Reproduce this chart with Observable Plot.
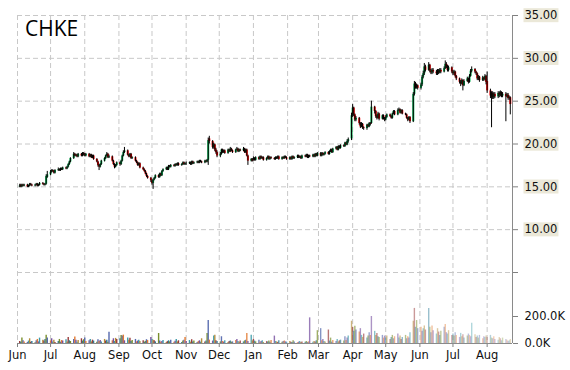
<!DOCTYPE html>
<html><head><meta charset="utf-8">
<script src="https://cdn.jsdelivr.net/npm/d3@7"></script>
<script src="https://cdn.jsdelivr.net/npm/@observablehq/plot@0.6"></script>
<style>
body{margin:0;background:#fff;}
#wrap{position:relative;width:570px;height:370px;overflow:hidden;background:#fff;}
#wrap svg{position:absolute;left:0;top:0;}
#title{position:absolute;left:25px;top:14px;font-family:"Open Sans";font-size:21px;color:#000;z-index:5;}
</style></head><body>
<div id="wrap"></div>
<script>
const title = "CHKE";
const monthTicks = ["2013-06-01","2013-07-01","2013-08-01","2013-09-01","2013-10-01","2013-11-01","2013-12-01",
  "2014-01-01","2014-02-01","2014-03-01","2014-04-01","2014-05-01","2014-06-01","2014-07-01","2014-08-01"];
const priceTicks = [5,10,15,20,25,30,35];
const volumeTicks = [0,200000];

const open = [
15.0,15.2,15.0,15.2,15.1,15.2,15.0,15.1,15.3,15.2,15.1,15.2,15.3,15.1,15.2,15.4,15.3,15.2,15.3,16.1,
16.4,16.7,16.9,16.8,16.6,16.9,17.0,16.9,17.1,17.0,17.2,17.1,17.3,17.6,17.9,18.3,18.8,18.6,18.7,18.5,18.8,18.6,18.9,
18.7,18.6,18.8,18.5,18.7,18.4,18.6,18.2,17.9,17.5,17.3,17.6,18.0,18.3,18.6,18.8,18.4,18.5,18.0,17.6,17.3,17.5,
17.8,17.6,18.0,18.6,19.0,19.2,18.7,18.5,18.8,18.3,18.4,18.0,17.8,17.5,17.7,17.2,17.0,16.8,16.5,16.2,16.0,
15.7,15.4,15.8,16.0,16.3,16.1,16.5,16.3,16.8,17.0,17.2,17.0,17.4,17.3,17.5,17.4,17.6,17.5,17.7,17.5,17.6,17.8,17.6,
17.7,17.7,17.8,17.6,17.9,17.7,17.8,17.9,17.8,18.0,17.9,17.8,18.0,17.9,18.1,20.6,20.3,19.6,19.9,19.3,19.0,
18.6,18.8,19.3,19.0,19.2,18.9,19.3,19.1,19.4,19.2,19.0,19.3,19.4,19.1,19.3,19.2,19.4,19.0,19.3,18.6,18.0,18.2,
18.2,18.3,18.1,18.4,18.2,18.5,18.3,18.4,18.1,18.3,18.5,18.2,18.4,18.3,18.2,18.4,18.3,18.5,18.2,18.4,18.3,18.5,18.4,
18.2,18.4,18.2,18.5,18.3,18.4,18.6,18.4,18.5,18.3,18.6,18.5,18.7,18.4,18.6,18.5,18.7,18.5,18.8,18.6,
18.9,18.6,18.9,18.7,18.8,19.0,18.8,19.1,19.3,19.0,19.4,19.6,19.3,19.7,19.5,19.8,19.7,20.1,19.9,20.3,20.6,
23.3,24.2,23.4,22.8,23.0,22.4,22.0,22.3,21.9,21.8,22.2,22.0,22.4,22.4,24.3,23.8,23.2,23.0,23.5,22.9,23.3,23.0,
22.8,23.1,23.4,23.2,23.0,23.5,23.8,23.4,23.9,24.0,23.6,23.9,23.5,23.4,23.0,22.8,23.1,22.6,25.8,27.0,26.6,26.8,
26.5,26.9,27.8,28.2,29.0,28.6,29.2,28.5,28.3,28.6,28.4,28.2,28.5,28.3,28.6,28.4,28.8,29.3,29.0,28.6,28.9,
28.4,28.2,28.4,27.9,27.6,27.2,27.0,27.4,26.8,27.3,27.6,27.2,27.9,28.5,28.7,28.4,28.2,27.6,27.8,27.4,27.7,27.5,27.9,
27.3,26.2,25.6,25.9,25.4,25.8,25.5,25.9,25.7,26.0,25.6,25.8,25.5,25.7,25.3,25.4];

const high = [
15.3,15.3,15.3,15.3,15.3,15.3,15.2,15.4,15.4,15.3,15.3,15.4,15.4,15.3,15.5,15.5,15.4,15.4,16.4,16.8,
16.9,17.0,17.0,16.9,17.0,17.2,17.1,17.2,17.2,17.3,17.3,17.4,17.7,18.0,18.4,19.0,18.9,18.8,18.8,18.9,18.9,19.0,19.0,
18.9,18.9,18.9,18.8,18.8,18.7,18.7,18.3,18.0,17.6,17.7,18.1,18.4,18.7,19.0,18.9,18.7,18.6,18.1,17.7,17.6,17.9,
17.9,18.1,18.7,19.2,19.6,19.3,18.8,18.9,18.9,18.5,18.5,18.1,17.9,17.8,17.8,17.3,17.1,16.9,16.6,16.3,16.1,
15.8,15.9,16.1,16.4,16.4,16.6,16.6,16.9,17.1,17.3,17.3,17.5,17.5,17.6,17.6,17.7,17.7,17.8,17.8,17.7,17.9,17.9,17.8,
17.9,17.9,17.9,18.0,18.0,17.9,18.0,18.0,18.1,18.1,18.0,18.1,18.1,18.2,20.7,20.9,20.4,20.1,20.0,19.5,19.2,
19.0,19.4,19.4,19.3,19.3,19.4,19.4,19.6,19.5,19.3,19.4,19.6,19.5,19.4,19.4,19.6,19.5,19.4,19.4,18.7,18.3,18.3,
18.5,18.4,18.5,18.5,18.6,18.6,18.5,18.5,18.4,18.6,18.6,18.5,18.5,18.4,18.5,18.5,18.6,18.6,18.5,18.5,18.6,18.6,18.5,
18.5,18.5,18.6,18.6,18.5,18.7,18.7,18.6,18.6,18.7,18.7,18.8,18.8,18.7,18.7,18.8,18.8,18.9,18.9,19.0,
19.0,19.0,19.0,18.9,19.1,19.1,19.2,19.4,19.4,19.5,19.7,19.7,19.8,19.8,19.9,19.9,20.2,20.2,20.5,20.7,23.6,
24.6,24.3,23.5,23.2,23.1,22.5,22.5,22.4,22.0,22.3,22.3,22.5,22.5,25.0,24.4,23.9,23.4,23.7,23.6,23.4,23.4,23.1,
23.3,23.5,23.5,23.3,23.6,23.9,23.9,24.1,24.2,24.1,24.0,24.0,23.6,23.5,23.1,23.2,23.2,26.0,27.3,27.2,27.0,26.9,
27.1,28.0,28.5,29.4,29.2,29.5,29.3,28.7,28.8,28.8,28.6,28.7,28.7,28.8,28.8,29.0,29.7,29.5,29.2,29.1,29.0,
28.6,28.6,28.5,28.0,27.7,27.4,27.6,27.5,27.5,27.8,27.7,28.1,28.7,29.0,28.8,28.5,28.3,28.0,27.9,27.9,27.8,28.1,28.0,
28.4,26.4,26.1,26.1,26.0,26.0,26.1,26.1,26.2,26.1,26.0,26.0,25.9,25.9,25.6,25.5];

const low = [
14.9,14.9,14.9,15.0,15.0,14.9,14.9,15.0,15.1,15.0,15.0,15.1,15.0,15.0,15.1,15.2,15.1,15.1,15.2,16.0,
16.3,16.6,16.7,16.5,16.5,16.8,16.8,16.8,16.9,16.9,17.0,17.0,17.2,17.5,17.8,18.2,18.5,18.5,18.4,18.4,18.5,18.5,18.6,
18.5,18.5,18.4,18.4,18.3,18.3,18.1,17.8,17.3,16.9,17.2,17.5,17.9,18.2,18.5,18.3,18.3,17.9,17.5,17.1,17.2,17.4,
17.4,17.5,17.9,18.5,18.9,18.6,18.4,18.4,18.2,18.2,17.9,17.7,17.4,17.4,17.1,16.9,16.7,16.4,16.1,15.9,15.5,
15.2,14.7,15.7,15.9,16.0,16.0,16.2,16.2,16.7,16.9,16.9,16.9,17.2,17.2,17.3,17.3,17.4,17.4,17.4,17.4,17.5,17.5,17.5,
17.5,17.6,17.5,17.5,17.6,17.6,17.7,17.7,17.7,17.8,17.7,17.7,17.8,17.8,17.5,20.0,19.4,19.4,19.1,18.8,18.4,
18.4,18.7,18.9,18.9,18.8,18.8,19.0,19.0,19.1,18.9,18.9,19.2,19.0,19.0,19.1,19.1,18.9,18.9,18.5,17.5,17.9,17.9,
18.0,18.0,18.0,18.1,18.1,18.2,18.2,18.0,18.0,18.2,18.1,18.1,18.2,18.1,18.1,18.2,18.2,18.1,18.1,18.2,18.2,18.3,18.1,
18.1,18.1,18.1,18.2,18.2,18.3,18.3,18.3,18.2,18.2,18.4,18.4,18.3,18.3,18.4,18.4,18.4,18.4,18.5,18.5,
18.5,18.5,18.6,18.6,18.7,18.7,18.7,19.0,18.9,18.9,19.3,19.2,19.2,19.4,19.4,19.6,19.6,19.8,19.8,20.1,20.4,
23.1,23.2,22.6,22.6,22.2,21.8,21.9,21.7,21.6,21.6,21.9,21.9,22.1,22.3,23.5,23.0,22.8,22.9,22.7,22.8,22.8,22.6,
22.7,23.0,23.1,22.9,22.9,23.4,23.3,23.3,23.8,23.5,23.5,23.4,23.3,22.9,22.6,22.7,22.4,22.5,25.6,26.4,26.4,26.3,
26.3,26.7,27.6,28.0,28.4,28.5,28.3,28.1,28.1,28.2,28.0,28.0,28.1,28.2,28.2,28.3,28.7,28.8,28.4,28.4,28.2,
28.0,28.0,27.7,27.4,27.0,26.7,26.9,26.2,26.7,27.2,27.0,27.1,27.8,28.3,28.2,28.0,27.4,27.4,27.2,27.3,27.3,27.4,26.9,
25.9,25.3,21.9,25.2,25.2,25.3,25.3,25.4,25.5,25.4,25.4,22.6,25.4,25.1,25.1,23.4];

const close = [
15.1,15.0,15.2,15.1,15.2,15.0,15.1,15.3,15.2,15.1,15.2,15.3,15.1,15.2,15.4,15.3,15.2,15.3,16.2,16.4,
16.7,16.9,16.8,16.6,16.9,17.0,16.9,17.1,17.0,17.2,17.1,17.3,17.6,17.9,18.3,18.8,18.6,18.7,18.5,18.8,18.6,18.9,18.7,
18.6,18.8,18.5,18.7,18.4,18.6,18.2,17.9,17.5,17.3,17.6,18.0,18.3,18.6,18.8,18.4,18.5,18.0,17.6,17.3,17.5,17.8,
17.6,18.0,18.6,19.0,19.2,18.7,18.5,18.8,18.3,18.4,18.0,17.8,17.5,17.7,17.2,17.0,16.8,16.5,16.2,16.0,15.7,
15.4,15.8,16.0,16.3,16.1,16.5,16.3,16.8,17.0,17.2,17.0,17.4,17.3,17.5,17.4,17.6,17.5,17.7,17.5,17.6,17.8,17.6,17.7,
17.7,17.8,17.6,17.9,17.7,17.8,17.9,17.8,18.0,17.9,17.8,18.0,17.9,18.1,20.4,20.3,19.6,19.9,19.3,19.0,18.6,
18.8,19.3,19.0,19.2,18.9,19.3,19.1,19.4,19.2,19.0,19.3,19.4,19.1,19.3,19.2,19.4,19.0,19.3,18.6,18.0,18.2,18.0,
18.3,18.1,18.4,18.2,18.5,18.3,18.4,18.1,18.3,18.5,18.2,18.4,18.3,18.2,18.4,18.3,18.5,18.2,18.4,18.3,18.5,18.4,18.2,
18.4,18.2,18.5,18.3,18.4,18.6,18.4,18.5,18.3,18.6,18.5,18.7,18.4,18.6,18.5,18.7,18.5,18.8,18.6,18.9,
18.6,18.9,18.7,18.8,19.0,18.8,19.1,19.3,19.0,19.4,19.6,19.3,19.7,19.5,19.8,19.7,20.1,19.9,20.3,20.5,23.3,
24.2,23.4,22.8,23.0,22.4,22.0,22.3,21.9,21.8,22.2,22.0,22.4,22.3,24.3,23.8,23.2,23.0,23.5,22.9,23.3,23.0,22.8,
23.1,23.4,23.2,23.0,23.5,23.8,23.4,23.9,24.0,23.6,23.9,23.5,23.4,23.0,22.8,23.1,22.6,25.8,27.0,26.6,26.8,26.5,
26.9,27.8,28.2,29.0,28.6,29.2,28.5,28.3,28.6,28.4,28.2,28.5,28.3,28.6,28.4,28.8,29.3,29.0,28.6,28.9,28.4,
28.2,28.4,27.9,27.6,27.2,27.0,27.4,26.8,27.3,27.6,27.2,27.9,28.5,28.7,28.4,28.2,27.6,27.8,27.4,27.7,27.5,27.9,27.2,
26.2,25.6,25.9,25.4,25.8,25.5,25.9,25.7,26.0,25.6,25.8,25.5,25.7,25.3,25.4,24.6];

const volumeK = [
15,10,40,20,12,8,18,35,10,14,6,20,30,12,40,25,18,30,62,40,
20,35,12,25,8,15,30,10,22,18,28,12,45,20,15,30,48,25,10,22,35,18,28,
40,15,20,30,12,25,18,10,28,15,22,12,30,18,25,10,84,20,35,15,38,30,
35,60,55,62,20,40,25,38,15,22,30,12,18,25,14,20,10,16,28,22,45,
30,25,20,12,74,18,10,15,22,8,14,20,12,25,10,16,30,12,20,8,18,24,45,
15,22,10,28,12,18,8,14,20,10,35,12,18,75,170,25,18,55,62,20,15,
12,50,15,10,20,8,14,18,10,12,22,30,15,10,18,12,20,25,74,15,62,20,
30,18,12,25,10,15,20,8,14,12,18,10,22,55,15,12,8,20,10,14,18,12,10,
15,10,8,20,12,6,10,14,8,12,10,15,8,12,190,10,14,12,20,95,
110,20,30,15,12,100,18,40,10,22,15,30,12,20,25,18,50,22,40,55,165,
120,90,128,100,85,110,60,45,70,40,55,80,60,200,90,60,75,50,45,60,40,55,
40,55,30,45,60,35,50,70,40,55,30,45,60,35,50,40,80,165,260,120,170,110,
120,90,110,130,100,260,120,80,130,95,70,110,85,60,90,120,140,80,70,95,60,
70,55,80,60,45,75,50,65,40,55,70,60,50,150,65,45,55,40,60,35,50,45,55,
45,60,40,35,50,30,25,45,35,20,40,30,25,15,20,30];

// trading days (weekdays) of the period
const days = d3.utcDay.range(new Date(Date.UTC(2013,5,3)), new Date(Date.UTC(2014,7,23)))
  .filter(d => d.getUTCDay() % 6 !== 0);
const lens = [days.length, open.length, high.length, low.length, close.length, volumeK.length];
if (new Set(lens).size !== 1) throw new Error("length mismatch " + lens.join(","));

const data = days.map((date, i) => ({date, o: open[i], h: high[i], l: low[i], c: close[i], v: volumeK[i] * 1000, i}));
const ticks = monthTicks.map(s => new Date(s + "T00:00:00Z"));
const xDomain = [new Date(Date.UTC(2013,5,1)), new Date(Date.UTC(2014,7,24))];
const palette = ["#9a3b3b","#2f7d99","#7a8f2c","#5468ad","#e27b33","#7750a0","#3b9aa8","#b38b38"];
const fadeStart = Date.UTC(2013,10,1), fadeEnd = Date.UTC(2014,7,22);
const volOpacity = d => d.date < fadeStart ? 1 : 1 - 0.68 * (d.date - fadeStart) / (fadeEnd - fadeStart);

const common = {width: 570, height: 370, marginLeft: 17, marginRight: 58, marginTop: 15};
const font = {fontFamily: "DejaVu Sans", fontSize: "11.5px", background: "transparent", color: "#808080", overflow: "visible"};

const volPlot = Plot.plot({
  ...common, marginBottom: 27, style: font,
  x: {type: "utc", domain: xDomain, ticks: ticks, tickFormat: d3.utcFormat("%b"), tickSize: 4, tickPadding: 3, label: null},
  y: {domain: [0, 2430000], axis: "right", ticks: volumeTicks, tickFormat: d => (d/1000).toFixed(1) + "K", tickSize: 5, tickPadding: 7, label: null},
  color: {type: "identity"},
  marks: [
    Plot.ruleX(ticks, {stroke: "#c8c8c8", strokeDasharray: "5,3"}),
    Plot.ruleX(data, {x: "date", y: "v", stroke: d => palette[d.i % palette.length], strokeOpacity: volOpacity, strokeWidth: 1.4}),
    Plot.ruleY([0], {stroke: "#8a8a8a"}),
    Plot.ruleX([xDomain[1]], {stroke: "#8a8a8a"})
  ]
});

const pricePlot = Plot.plot({
  ...common, marginBottom: 98, style: font,
  x: {type: "utc", domain: xDomain, axis: null},
  y: {domain: [5, 35], axis: "right", ticks: priceTicks, tickFormat: d => d === 5 ? "" : d.toFixed(2), tickSize: 5, tickPadding: 7, label: null},
  color: {type: "identity"},
  marks: [
    Plot.ruleY(priceTicks, {stroke: "#c8c8c8", strokeDasharray: "5,3"}),
    Plot.ruleX(data, {x: "date", y1: "o", y2: "c", stroke: d => d.c >= d.o ? "#00b050" : "#ff0000", strokeWidth: 2}),
    Plot.ruleX(data, {x: "date", y1: "l", y2: "h", stroke: "#000", strokeWidth: 1})
  ]
});

const wrap = document.getElementById("wrap");
wrap.appendChild(volPlot);
wrap.appendChild(pricePlot);
const t = document.createElement("div");
t.id = "title"; t.textContent = title;
wrap.appendChild(t);

// text colour and label backgrounds
for (const svg of [volPlot, pricePlot]) {
  svg.querySelectorAll("text").forEach(el => el.setAttribute("fill", "#111"));
}
pricePlot.querySelectorAll("text").forEach(el => {
  if (!el.textContent.trim()) return;
  const b = el.getBBox();
  const r = document.createElementNS("http://www.w3.org/2000/svg", "rect");
  r.setAttribute("x", b.x - 1); r.setAttribute("y", b.y);
  r.setAttribute("width", b.width + 2); r.setAttribute("height", b.height);
  r.setAttribute("fill", "#ebe8d8");
  if (el.getAttribute("transform")) r.setAttribute("transform", el.getAttribute("transform"));
  el.parentNode.insertBefore(r, el);
});
</script>
</body></html>
